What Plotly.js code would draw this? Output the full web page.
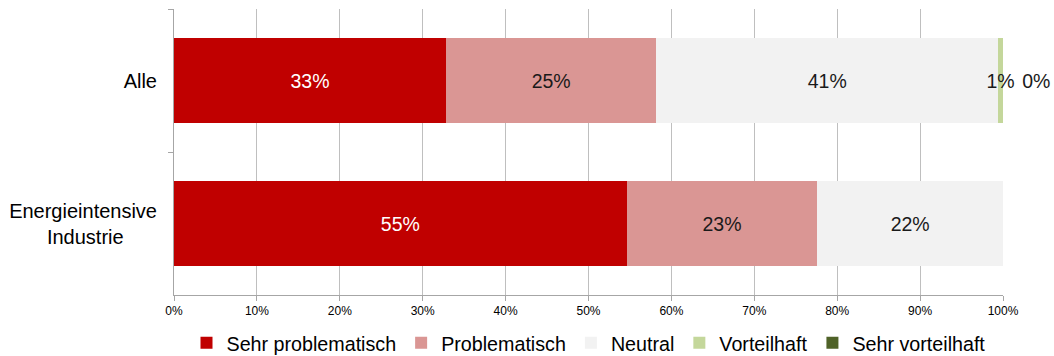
<!DOCTYPE html>
<html><head><meta charset="utf-8">
<script src="https://cdn.plot.ly/plotly-3.0.1.min.js"></script>
<style>html,body{margin:0;padding:0;background:#fff}#chart{width:1054px;height:356px}</style>
</head><body><div id="chart"></div>
<script>
const categories = ['Alle', 'Energieintensive<br>Industrie\u00a0\u00a0\u00a0\u00a0\u00a0\u00a0'];
const seriesNames = ['Sehr problematisch', 'Problematisch', 'Neutral', 'Vorteilhaft', 'Sehr vorteilhaft'];
const sehrProblematisch = [32.8, 54.6];
const problematisch = [25.4, 23.0];
const neutral = [41.2, 22.4];
const vorteilhaft = [0.6, 0];
const sehrVorteilhaft = [0, 0];
const labelsSehrProblematisch = ['33%', '55%'];
const labelsProblematisch = ['25%', '23%'];
const labelsNeutral = ['41%', '22%'];
const labelsVorteilhaft = ['1%', ''];
const labelsSehrVorteilhaft = ['\u00a0\u00a0\u00a00%', ''];
const xTicks = [0,10,20,30,40,50,60,70,80,90,100];

const colors = ['#C00000', '#DA9694', '#F2F2F2', '#C4D79B', '#4F6228'];
const textColors = ['#ffffff', '#1a1a1a', '#1a1a1a', '#1a1a1a', '#1a1a1a'];
const values = [sehrProblematisch, problematisch, neutral, vorteilhaft, sehrVorteilhaft];
const labels = [labelsSehrProblematisch, labelsProblematisch, labelsNeutral, labelsVorteilhaft, labelsSehrVorteilhaft];
const FONT = 'Liberation Sans, Arial, sans-serif';

const traces = seriesNames.map((name, i) => ({
  type: 'bar', orientation: 'h', name: name,
  y: categories, x: values[i],
  text: labels[i], texttemplate: '%{text}',
  textposition: i === 4 ? 'outside' : 'inside',
  insidetextanchor: 'middle',
  textangle: 0,
  constraintext: 'none',
  cliponaxis: false,
  textfont: {family: FONT, size: 19.5, color: textColors[i]},
  insidetextfont: {family: FONT, size: 19.5, color: textColors[i]},
  outsidetextfont: {family: FONT, size: 19.5, color: '#1a1a1a'},
  marker: {color: colors[i], line: {width: 0}},
  hoverinfo: 'skip'
}));

const layout = {
  width: 1054, height: 356,
  margin: {l: 174, r: 51, t: 9, b: 61, autoexpand: false},
  barmode: 'stack', bargap: 0.4,
  paper_bgcolor: '#fff', plot_bgcolor: '#fff',
  font: {family: FONT, color: '#000'},
  xaxis: {
    range: [0, 100], tickvals: xTicks, ticktext: xTicks.map(v => v + '%'),
    showgrid: true, gridcolor: '#bfbfbf', gridwidth: 1,
    showline: true, linecolor: '#a6a6a6', linewidth: 1,
    ticks: 'outside', ticklen: 5, tickcolor: '#a6a6a6',
    tickfont: {size: 12, color: '#000'}, zeroline: false, fixedrange: true
  },
  yaxis: {
    autorange: 'reversed', type: 'category',
    showline: true, linecolor: '#a6a6a6', linewidth: 1,
    ticks: 'outside', ticklen: 5, tickcolor: '#a6a6a6', tickson: 'boundaries',
    tickfont: {size: 20, color: '#000'}, showgrid: false, ticklabelstandoff: 12, fixedrange: true
  },
  showlegend: true,
  legend: {
    orientation: 'h', x: 0.5, xanchor: 'center', y: -0.168, yanchor: 'middle',
    font: {size: 19.7, color: '#000'}, traceorder: 'normal', itemwidth: 30
  }
};

Plotly.newPlot('chart', traces, layout, {staticPlot: true, displayModeBar: false});
</script></body></html>
